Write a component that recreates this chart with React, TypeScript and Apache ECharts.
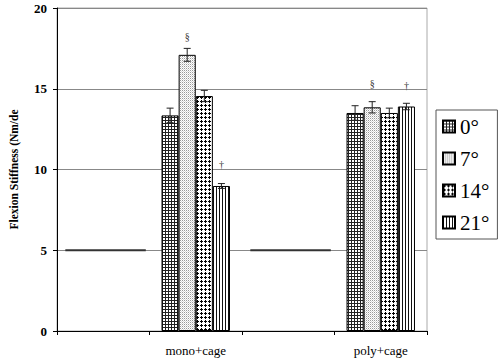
import React, { useEffect, useRef } from "react";
import * as echarts from "echarts";

const categories = ["", "mono+cage", "", "poly+cage"];
const seriesNames = ["0°", "7°", "14°", "21°"];
const values0 = [null, 13.35, null, 13.5];
const values7 = [null, 17.1, null, 13.85];
const values14 = [null, 14.55, null, 13.5];
const values21 = [null, 8.98, null, 13.9];
const errors0 = [0, 0.45, 0, 0.45];
const errors7 = [0, 0.4, 0, 0.35];
const errors14 = [0, 0.35, 0, 0.3];
const errors21 = [0, 0.15, 0, 0.2];
const intactValues = [5, null, 5, null];
// significance marks: [categoryIndex, barIndex, yValue]
const markCats = [1, 1, 3, 3];
const markBars = [1, 3, 1, 3];
const markValues = [18.25, 10.3, 15.35, 15.2];
const markSymbols = ["§", "†", "§", "†"];
const yTicks = [0, 5, 10, 15, 20];

const BAR_FRAC = 0.185;
const FONT = "Liberation Serif";

function makePattern(kind: number) {
  const c = document.createElement("canvas");
  let w = 3, h = 3;
  if (kind === 2) { w = 4; h = 4; }
  if (kind === 3) { w = 3; h = 1; }
  if (kind === 1) { w = 2; h = 2; }
  c.width = w; c.height = h;
  const ctx = c.getContext("2d")!;
  ctx.fillStyle = "#fff";
  ctx.fillRect(0, 0, w, h);
  ctx.fillStyle = "#000";
  if (kind === 0) {
    ctx.fillStyle = "#222";
    ctx.fillRect(0, 0, 3, 1);
    ctx.fillRect(0, 0, 1, 3);
  } else if (kind === 1) {
    ctx.fillStyle = "#9a9a9a";
    ctx.fillRect(0, 0, 1, 1);
    ctx.fillStyle = "#d8d8d8";
    ctx.fillRect(1, 1, 1, 1);
  } else if (kind === 2) {
    ctx.fillRect(1, 0, 1, 3);
    ctx.fillRect(0, 1, 3, 1);
  } else {
    ctx.fillStyle = "#111";
    ctx.fillRect(0, 0, 1, 1);
  }
  return { image: c, repeat: "repeat", imageWidth: w, imageHeight: h } as any;
}

export default function App() {
  const ref = useRef<HTMLDivElement>(null);
  useEffect(() => {
    if (!ref.current) return;
    const chart = echarts.init(ref.current, undefined, { renderer: "svg" });
    const vals = [values0, values7, values14, values21];
    const errs = [errors0, errors7, errors14, errors21];
    const patterns = [0, 1, 2, 3].map(makePattern);

    const barSeries = seriesNames.map((name, i) => ({
      name,
      type: "bar",
      data: vals[i],
      barWidth: BAR_FRAC * 100 + "%",
      barGap: "0%",
      itemStyle: { color: patterns[i], borderColor: "#000", borderWidth: 1 },
      z: 2,
    }));

    const errSeries = seriesNames.map((name, i) => ({
      type: "custom",
      data: vals[i].map((v, k) => (v == null ? null : [k, v, errs[i][k]])).filter((d) => d),
      z: 5,
      itemStyle: { color: "#222" },
      renderItem: (params: any, api: any) => {
        const cat = api.value(0);
        const v = api.value(1);
        const e = api.value(2);
        const bw = api.size([1, 0])[0];
        const barW = bw * BAR_FRAC;
        const cx = api.coord([cat, v])[0] + (i - 1.5) * barW;
        const top = api.coord([cat, v + e])[1];
        const bot = api.coord([cat, v - e])[1];
        const cap = 3.5;
        const st = { stroke: "#222", lineWidth: 1 };
        return {
          type: "group",
          children: [
            { type: "line", shape: { x1: cx, y1: top, x2: cx, y2: bot }, style: st },
            { type: "line", shape: { x1: cx - cap, y1: top, x2: cx + cap, y2: top }, style: st },
            { type: "line", shape: { x1: cx - cap, y1: bot, x2: cx + cap, y2: bot }, style: st },
          ],
        };
      },
    }));

    const intactSeries = {
      type: "custom",
      data: intactValues.map((v, k) => (v == null ? null : [k, v])).filter((d) => d),
      z: 4,
      itemStyle: { color: "#333" },
      renderItem: (params: any, api: any) => {
        const cat = api.value(0);
        const v = api.value(1);
        const bw = api.size([1, 0])[0];
        const p = api.coord([cat, v]);
        return {
          type: "line",
          shape: { x1: p[0] - 0.41 * bw, y1: p[1], x2: p[0] + 0.46 * bw, y2: p[1] },
          style: { stroke: "#333", lineWidth: 2 },
        };
      },
    };

    const markSeries = {
      type: "custom",
      data: markValues.map((v, k) => [markCats[k], v]),
      z: 6,
      itemStyle: { color: "#333" },
      renderItem: (params: any, api: any) => {
        const k = params.dataIndex;
        const bw = api.size([1, 0])[0];
        const p = api.coord([api.value(0), api.value(1)]);
        const x = p[0] + (markBars[k] - 1.5) * bw * BAR_FRAC;
        return {
          type: "text",
          x,
          y: p[1],
          style: {
            text: markSymbols[k],
            fontFamily: FONT,
            fontSize: 10,
            fill: "#333",
            align: "center",
            verticalAlign: "middle",
          },
        };
      },
    };

    chart.setOption({
      animation: false,
      backgroundColor: "#fff",
      grid: {
        left: 53,
        right: 73,
        top: 8,
        bottom: 30,
        show: true,
        borderColor: "#aaa",
        borderWidth: 1,
      },
      legend: {
        data: seriesNames,
        orient: "vertical",
        left: 436,
        top: 110,
        icon: "rect",
        itemWidth: 12,
        itemHeight: 12,
        itemGap: 11,
        padding: [6, 8, 6, 6],
        borderColor: "#555",
        borderWidth: 1,
        backgroundColor: "#fff",
        textStyle: { fontFamily: FONT, fontSize: 21, color: "#000" },
      },
      xAxis: {
        type: "category",
        data: categories,
        axisLine: { lineStyle: { color: "#000" } },
        axisTick: { show: true, length: 4, interval: 0, lineStyle: { color: "#000" } },
        axisLabel: { interval: 0, margin: 13, fontFamily: FONT, fontSize: 13, color: "#000" },
        splitLine: { show: false },
      },
      yAxis: {
        type: "value",
        min: yTicks[0],
        max: yTicks[yTicks.length - 1],
        interval: 5,
        name: "Flexion Stiffness (Nm/de",
        nameLocation: "middle",
        nameGap: 37,
        nameRotate: 90,
        nameTextStyle: { fontFamily: FONT, fontSize: 11.5, fontWeight: "bold", color: "#000" },
        axisLine: { show: true, lineStyle: { color: "#000" } },
        axisTick: { show: true, length: 4, lineStyle: { color: "#000" } },
        axisLabel: { margin: 10, fontFamily: FONT, fontSize: 13, fontWeight: "bold", color: "#000" },
        splitLine: { show: true, lineStyle: { color: "#888", width: 1 } },
      },
      series: [...barSeries, ...errSeries, intactSeries, markSeries],
    } as any);
    return () => chart.dispose();
  }, []);
  return <div ref={ref} style={{ width: 500, height: 361, position: "fixed", left: 0, top: 0 }} />;
}
